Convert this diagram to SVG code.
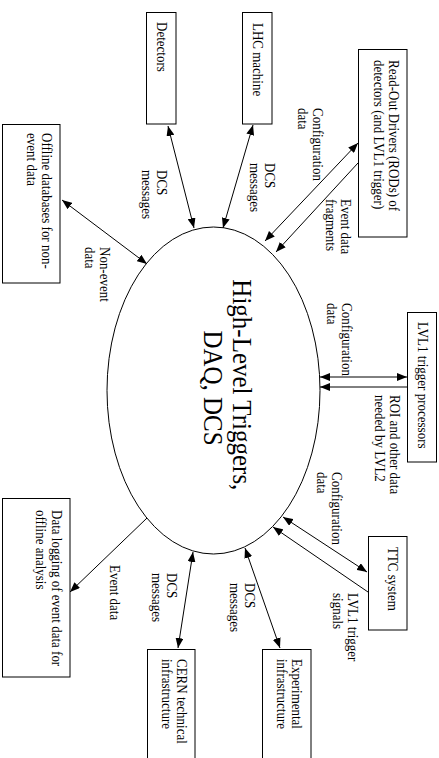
<svg xmlns="http://www.w3.org/2000/svg" width="439" height="758" viewBox="0 0 439 758">
  <style>
    .box { fill: #fff; stroke: #000; stroke-width: 1; }
    .hub { fill: #fff; stroke: #000; stroke-width: 1; }
    .t { font-family: "Liberation Serif", "Times New Roman", serif; font-size: 13px; fill: #000; }
    .big { font-family: "Liberation Serif", "Times New Roman", serif; font-size: 25px; fill: #000; }
    .wire { stroke: #000; stroke-width: 1; fill: none; }
    .one { marker-end: url(#head); }
    .two { marker-start: url(#head); marker-end: url(#head); }
  </style>
  <defs>
    <marker id="head" viewBox="0 0 10 8" refX="10" refY="4" markerWidth="10" markerHeight="8" markerUnits="userSpaceOnUse" orient="auto-start-reverse">
      <path d="M0,0 L10,4 L0,8 Z" fill="#000"/>
    </marker>
  </defs>
  <rect width="439" height="758" fill="#fff"/>

  <!-- central system -->
  <g id="hlt">
    <ellipse class="hub" cx="213.5" cy="390.5" rx="106.5" ry="163.5"/>
    <text class="big" text-anchor="middle" transform="translate(233,388) rotate(90) scale(1,1.1)">
      <tspan x="0" y="0">High-Level Triggers,</tspan>
      <tspan x="0" dy="26">DAQ, DCS</tspan>
    </text>
  </g>

  <!-- connectors -->
  <g id="connectors">
    <line class="wire two" x1="168" y1="126" x2="194" y2="228"/>
    <line class="wire two" x1="253" y1="125" x2="223" y2="228"/>
    <line class="wire two" x1="358" y1="143" x2="265" y2="241"/>
    <line class="wire one" x1="358" y1="163" x2="276" y2="252"/>
    <line class="wire two" x1="62" y1="200" x2="147" y2="264"/>
    <line class="wire two" x1="407" y1="377" x2="320" y2="377"/>
    <line class="wire one" x1="407" y1="387" x2="320" y2="387"/>
    <line class="wire two" x1="283" y1="517" x2="367" y2="572"/>
    <line class="wire one" x1="368" y1="592" x2="273" y2="527"/>
    <line class="wire one" x1="147" y1="518" x2="70" y2="592"/>
    <line class="wire two" x1="193" y1="552" x2="178" y2="648"/>
    <line class="wire two" x1="245" y1="548" x2="280" y2="648"/>

    <g class="t">
      <text transform="translate(157,170) rotate(90) scale(1,1.1)"><tspan x="0" y="0">DCS</tspan><tspan x="0" dy="13.6">messages</tspan></text>
      <text transform="translate(265,163) rotate(90) scale(1,1.1)"><tspan x="0" y="0">DCS</tspan><tspan x="0" dy="13.6">messages</tspan></text>
      <text transform="translate(313,108) rotate(90) scale(1,1.1)"><tspan x="0" y="0">Configuration</tspan><tspan x="0" dy="13.6">data</tspan></text>
      <text transform="translate(341,199) rotate(90) scale(1,1.1)"><tspan x="0" y="0">Event data</tspan><tspan x="0" dy="13.6">fragments</tspan></text>
      <text transform="translate(100,247) rotate(90) scale(1,1.1)"><tspan x="0" y="0">Non-event</tspan><tspan x="0" dy="13.6">data</tspan></text>
      <text transform="translate(342,303) rotate(90) scale(1,1.1)"><tspan x="0" y="0">Configuration</tspan><tspan x="0" dy="13.6">data</tspan></text>
      <text transform="translate(390,395) rotate(90) scale(1,1.1)"><tspan x="0" y="0">ROI and other data</tspan><tspan x="0" dy="13.6">needed by LVL2</tspan></text>
      <text transform="translate(332,472) rotate(90) scale(1,1.1)"><tspan x="0" y="0">Configuration</tspan><tspan x="0" dy="13.6">data</tspan></text>
      <text transform="translate(348,593) rotate(90) scale(1,1.1)"><tspan x="0" y="0">LVL1 trigger</tspan><tspan x="0" dy="13.6">signals</tspan></text>
      <text transform="translate(110,565) rotate(90) scale(1,1.1)">Event data</text>
      <text transform="translate(167,573) rotate(90) scale(1,1.1)"><tspan x="0" y="0">DCS</tspan><tspan x="0" dy="13.6">messages</tspan></text>
      <text transform="translate(245,583) rotate(90) scale(1,1.1)"><tspan x="0" y="0">DCS</tspan><tspan x="0" dy="13.6">messages</tspan></text>
    </g>
  </g>

  <!-- external systems -->
  <g id="detectors">
    <rect class="box" x="146.5" y="12.5" width="29.5" height="111.5"/>
    <text class="t" transform="translate(157,22) rotate(90) scale(1,1.1)">Detectors</text>
  </g>
  <g id="lhc">
    <rect class="box" x="242.5" y="12.5" width="29.5" height="111.5"/>
    <text class="t" transform="translate(253,23) rotate(90) scale(1,1.1)">LHC machine</text>
  </g>
  <g id="rods">
    <rect class="box" x="358.5" y="49.5" width="48.5" height="187.5"/>
    <text class="t" transform="translate(389,60) rotate(90) scale(1,1.1)"><tspan x="0" y="0">Read-Out Drivers (RODs) of</tspan><tspan x="0" dy="13.6">detectors (and LVL1 trigger)</tspan></text>
  </g>
  <g id="offline-db">
    <rect class="box" x="2.5" y="124.5" width="57.5" height="158.5"/>
    <text class="t" transform="translate(42,133) rotate(90) scale(1,1.1)"><tspan x="0" y="0">Offline databases for non-</tspan><tspan x="0" dy="13.6">event data</tspan></text>
  </g>
  <g id="lvl1">
    <rect class="box" x="407.5" y="312.5" width="29" height="149.5"/>
    <text class="t" transform="translate(418,322) rotate(90) scale(1,1.1)">LVL1 trigger processors</text>
  </g>
  <g id="ttc">
    <rect class="box" x="368.5" y="536.5" width="38.5" height="93.5"/>
    <text class="t" transform="translate(388,547) rotate(90) scale(1,1.1)">TTC system</text>
  </g>
  <g id="data-logging">
    <rect class="box" x="2.5" y="498.5" width="67.5" height="178.5"/>
    <text class="t" transform="translate(52,510) rotate(90) scale(1,1.1)"><tspan x="0" y="0">Data logging of event data for</tspan><tspan x="0" dy="14.5">offline analysis</tspan></text>
  </g>
  <g id="cern-infra">
    <rect class="box" x="147.5" y="649.5" width="47.5" height="120"/>
    <text class="t" transform="translate(177,659) rotate(90) scale(1,1.1)"><tspan x="0" y="0">CERN technical</tspan><tspan x="0" dy="13.6">infrastructure</tspan></text>
  </g>
  <g id="exp-infra">
    <rect class="box" x="262.5" y="649.5" width="48.5" height="120"/>
    <text class="t" transform="translate(292,659) rotate(90) scale(1,1.1)"><tspan x="0" y="0">Experimental</tspan><tspan x="0" dy="13.6">infrastructure</tspan></text>
  </g>
</svg>
